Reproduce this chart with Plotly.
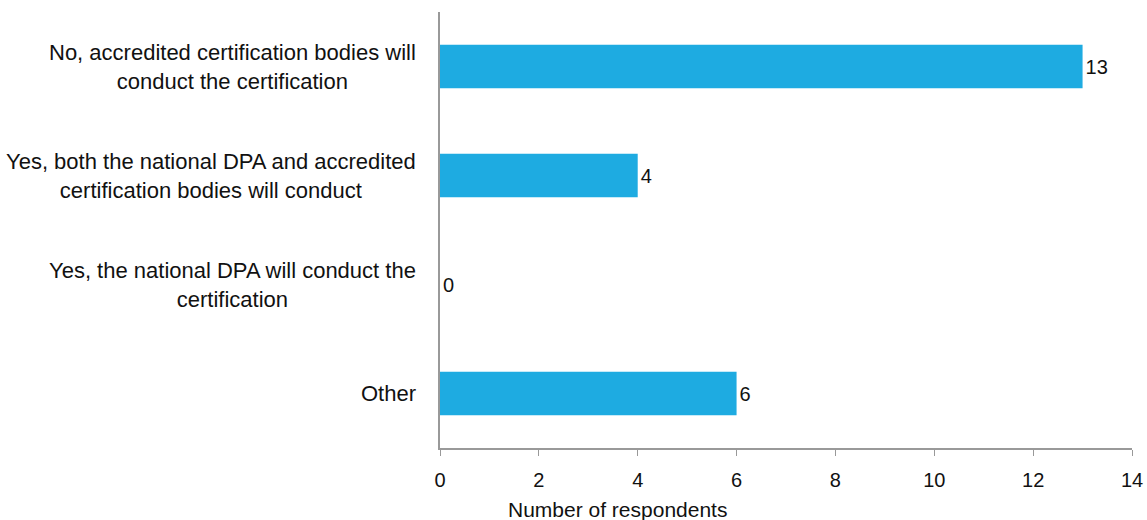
import plotly.graph_objects as go

categories = [
    "No, accredited certification bodies will<br>conduct the certification",
    "Yes, both the national DPA and accredited<br>certification bodies will conduct",
    "Yes, the national DPA will conduct the<br>certification",
    "Other",
]
values = [13, 4, 0, 6]
x_ticks = [0, 2, 4, 6, 8, 10, 12, 14]

fig = go.Figure()
fig.add_trace(go.Bar(
    x=values, y=categories, orientation="h",
    marker=dict(color="#1EABE1", line=dict(width=0)),
    width=0.4,
    text=[str(v) for v in values], textposition="outside",
    textfont=dict(size=20, color="#111111"),
    cliponaxis=False,
))

# category labels as annotations so that wrapped lines are centred
annotations = [
    dict(text=c, x=0, y=c, xref="paper", yref="y", xanchor="right",
         yanchor="middle", xshift=-22, align="center", showarrow=False,
         font=dict(size=22, color="#111111"))
    for c in categories
]
annotations.append(dict(
    text="Number of respondents", x=0.257, y=-0.109,
    xref="paper", yref="paper", xanchor="center", yanchor="top",
    showarrow=False, font=dict(size=21, color="#111111"),
))

fig.update_layout(
    width=1147, height=520,
    margin=dict(l=440, r=15, t=12, b=72, autoexpand=False),
    paper_bgcolor="white", plot_bgcolor="white",
    font=dict(family="Liberation Sans, Arial, sans-serif", color="#111111"),
    showlegend=False,
    annotations=annotations,
)
fig.update_xaxes(
    range=[0, 14], tickvals=x_ticks, showgrid=False, zeroline=False,
    showline=True, linecolor="#999999", linewidth=1.5,
    ticks="outside", ticklen=6, tickcolor="#999999",
    tickfont=dict(size=20), ticklabelstandoff=7, automargin=False,
)
fig.update_yaxes(
    categoryorder="array", categoryarray=categories[::-1],
    range=[-0.5, 3.5], showgrid=False, zeroline=False,
    showline=True, linecolor="#999999", linewidth=1.5,
    ticks="", showticklabels=False, automargin=False,
)

fig.write_html("out.html", config={"displayModeBar": False},
               post_script="document.body.style.margin='0';")
